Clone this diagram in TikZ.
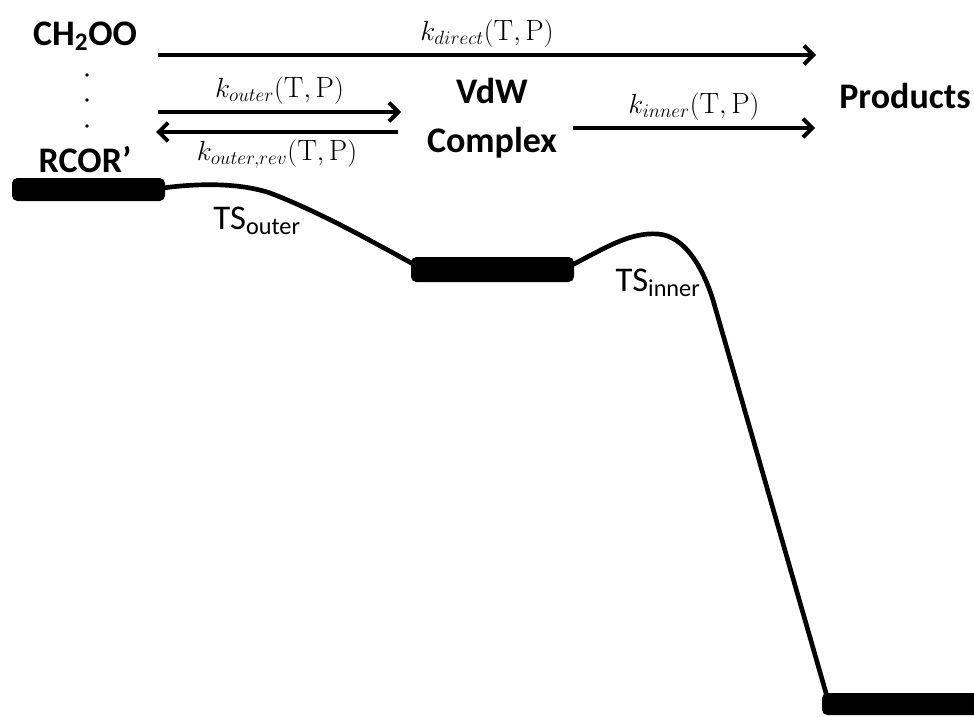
\documentclass[tikz,border=0pt]{standalone}
\usepackage{fontspec}
\setsansfont{Carlito}
\usetikzlibrary{arrows.meta,positioning}

\begin{document}
\begin{tikzpicture}[x=0.75pt,y=-0.75pt,
		species/.style={font=\sffamily\bfseries\fontsize{27}{37}\selectfont, align=center, inner sep=0pt},
		rate/.style={font=\fontsize{22}{26}\selectfont, inner sep=2pt},
		tslabel/.style={font=\sffamily\fontsize{26}{30}\selectfont, inner sep=0pt},
		react/.style={line width=3pt, -{Straight Barb[length=7pt,width=14pt,line width=3pt]}},
		level/.style={fill=black, rounded corners=4pt},
		profile/.style={line width=3.5pt},
		dot/.style={circle, fill=black, inner sep=1pt}
		]
		
		% Page size
		\useasboundingbox (0,0) rectangle (974,717);
		
		% Species
		\node[species] (ch2oo) at (85,36) {CH\textsubscript{2}OO};
		\node[species] (rcor) at (85,160) {RCOR’};
		\node[species] (vdw) at (492,118) {VdW\\Complex};
		\node[species] (prod) at (905,96) {Products};
		
		% Dots between the reactants
		\foreach \dy [count=\i] in {75,100,126}
			\node[dot] (dot\i) at (87,\dy) {};
		
		% Arrow ends
		\coordinate (dirS) at (158,55);
		\coordinate (dirE) at (816,55);
		\coordinate (outS) at (158,112);
		\coordinate (outE) at (401,112);
		\coordinate (revS) at (398,132);
		\coordinate (revE) at (156,132);
		\coordinate (innS) at (573,128);
		\coordinate (innE) at (815,128);
		
		% Rate arrows
		\draw[react] (dirS) -- node[rate, above=2pt] (kdir) {$k_{direct}(\mathrm{T,P})$} (dirE);
		\draw[react] (outS) -- node[rate, above=2pt] (kout) {$k_{outer}(\mathrm{T,P})$} (outE);
		\draw[react] (revS) -- node[rate, below=2pt] (krev) {$k_{outer,rev}(\mathrm{T,P})$} (revE);
		\draw[react] (innS) -- node[rate, above=2pt] (kinn) {$k_{inner}(\mathrm{T,P})$} (innE);
		
		% Energy levels
		\fill[level] (12,178) rectangle (165,201);
		\fill[level] (411,257) rectangle (574,282);
		\fill[level] (822,693) rectangle (990,715);
		
		% Energy profile
		\draw[profile] (163,188) .. controls (200,183) and (240,183) .. (270,193)
			.. controls (315,210) and (370,240) .. (413,264);
		\draw[profile] (572,265) .. controls (605,248) and (630,232) .. (658,234)
			.. controls (685,236) and (703,268) .. (713,300) -- (828,700);
		
		% Transition state labels
		\node[tslabel] (tsout) at (257,221) {TS\textsubscript{outer}};
		\node[tslabel] (tsinn) at (658,283) {TS\textsubscript{inner}};
		
	\end{tikzpicture}
\end{document}
